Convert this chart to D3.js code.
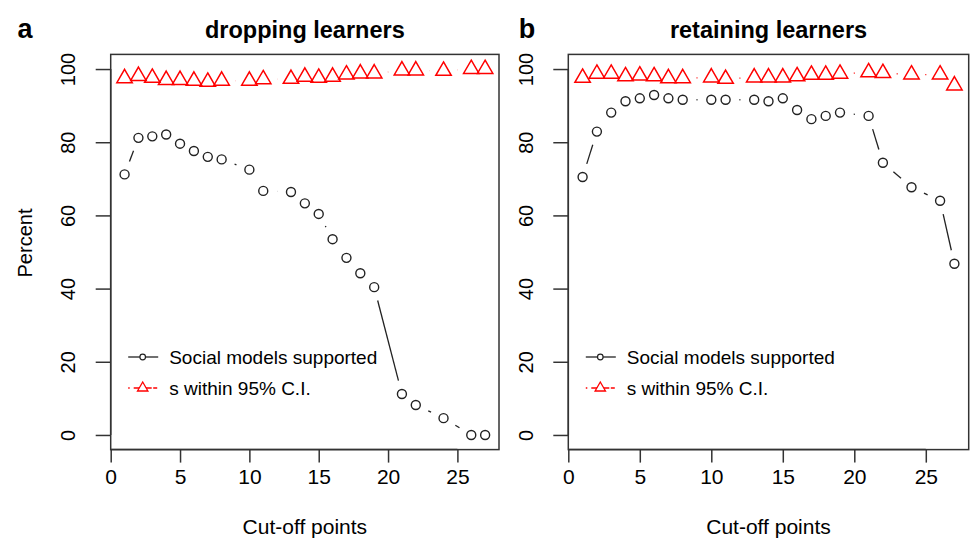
<!DOCTYPE html>
<html>
<head>
<meta charset="utf-8">
<script src="https://cdnjs.cloudflare.com/ajax/libs/d3/7.8.5/d3.min.js"></script>
<style>
  body { margin: 0; background: #fff; }
  svg text { font-family: "Liberation Sans", Arial, sans-serif; fill: #000; }
</style>
</head>
<body>
<div id="chart"></div>
<script>
// cut-off points shared by both panels
const cutoffs = [1, 2, 3, 4, 5, 6, 7, 8, 10, 11, 13, 14, 15, 16, 17, 18, 19, 21, 22, 24, 26, 27];

// panel a: dropping learners
const dropSupported = [71.2, 81.2, 81.6, 82.1, 79.6, 77.6, 76.0, 75.3, 72.5, 66.7, 66.4, 63.3, 60.4, 53.5, 48.4, 44.2, 40.4, 11.2, 8.2, 4.6, 0, 0];
const dropWithinCI = [97.5, 98.1, 97.6, 97.0, 97.0, 96.8, 96.5, 96.8, 96.8, 97.2, 97.3, 97.9, 97.6, 97.9, 98.5, 98.8, 98.8, 99.6, 99.6, 99.5, 100, 100];

// panel b: retaining learners
const retainSupported = [70.5, 82.9, 88.1, 91.2, 92.0, 92.9, 92.0, 91.6, 91.6, 91.6, 91.6, 91.2, 92.0, 88.8, 86.3, 87.2, 88.1, 87.2, 74.4, 67.7, 64.0, 46.8];
const retainWithinCI = [97.6, 98.7, 98.7, 98.0, 98.2, 98.0, 97.5, 97.5, 97.7, 97.3, 97.7, 97.7, 97.7, 98.0, 98.4, 98.4, 98.7, 99.1, 98.9, 98.5, 98.5, 95.5];

const xTicks = [0, 5, 10, 15, 20, 25];
const yTicks = [0, 20, 40, 60, 80, 100];
const legendLabels = ["Social models supported", "s within 95% C.I."];

const width = 970, height = 541;
const svg = d3.select("#chart").append("svg")
  .attr("width", width)
  .attr("height", height);

const panels = [
  { letter: "a", letterX: 25, title: "dropping learners", left: 110.7, right: 499, black: dropSupported, red: dropWithinCI, ylab: true },
  { letter: "b", letterX: 527, title: "retaining learners", left: 568.3, right: 968.7, black: retainSupported, red: retainWithinCI, ylab: false }
];

const plotTop = 54.4, plotBottom = 449.6;
const gap = 13.8; // type="b" gap round each point

// triangle, pch 2 style: apex r above centre, base r/2 below
function tri(r) {
  const h = r * 0.866;
  return `M0,${-r}L${h},${r / 2}L${-h},${r / 2}Z`;
}

// draw point-to-point segments with gaps
function gappedSegments(g, pts, cls) {
  const segs = [];
  for (let i = 1; i < pts.length; i++) {
    const [x1, y1] = pts[i - 1], [x2, y2] = pts[i];
    const len = Math.hypot(x2 - x1, y2 - y1);
    if (len <= 2 * gap) continue;
    const ux = (x2 - x1) / len, uy = (y2 - y1) / len;
    segs.push([x1 + ux * gap, y1 + uy * gap, x2 - ux * gap, y2 - uy * gap]);
  }
  return g.selectAll("line." + cls)
    .data(segs)
    .enter()
    .append("line")
    .attr("class", cls)
    .attr("x1", d => d[0]).attr("y1", d => d[1])
    .attr("x2", d => d[2]).attr("y2", d => d[3]);
}

panels.forEach(p => {
  const x = d3.scaleLinear().domain([0, 28]).range([p.left, p.right]);
  const y = d3.scaleLinear().domain([-4, 104]).range([plotBottom, plotTop]);
  const g = svg.append("g");

  // x axis (R style)
  const xAxis = g.append("g")
    .attr("transform", `translate(0,${plotBottom})`)
    .call(d3.axisBottom(x).tickValues(xTicks).tickSize(13).tickPadding(6).tickSizeOuter(0));
  xAxis.select(".domain").attr("d", `M${x(0)},0H${x(25)}`);
  xAxis.selectAll("line, path").attr("stroke", "#333").attr("stroke-width", 1.5);
  xAxis.selectAll("text").style("font-size", "21px").style("font-family", "Liberation Sans, Arial, sans-serif").attr("fill", "#000");

  // y axis, labels turned as in R
  const yAxis = g.append("g")
    .attr("transform", `translate(${p.left},0)`)
    .call(d3.axisLeft(y).tickValues(yTicks).tickSize(15).tickSizeOuter(0));
  yAxis.select(".domain").attr("d", `M0,${y(0)}V${y(100)}`);
  yAxis.selectAll("line, path").attr("stroke", "#333").attr("stroke-width", 1.5);
  yAxis.selectAll(".tick text")
    .attr("x", 0).attr("dy", null)
    .attr("transform", "translate(-42.5,0) rotate(-90)")
    .attr("text-anchor", "middle")
    .attr("dominant-baseline", "central")
    .style("font-size", "20px")
    .style("font-family", "Liberation Sans, Arial, sans-serif")
    .attr("fill", "#000");

  // box
  g.append("rect")
    .attr("x", p.left).attr("y", plotTop)
    .attr("width", p.right - p.left).attr("height", plotBottom - plotTop)
    .attr("fill", "none").attr("stroke", "#333").attr("stroke-width", 1.5);

  const blackPts = cutoffs.map((c, i) => [x(c), y(p.black[i])]);
  const redPts = cutoffs.map((c, i) => [x(c), y(p.red[i])]);

  gappedSegments(g, blackPts, "seg-black")
    .attr("stroke", "#222").attr("stroke-width", 1.3);
  gappedSegments(g, redPts, "seg-red")
    .attr("stroke", "#f00").attr("stroke-width", 1.3).attr("stroke-dasharray", "1.5,3,5,3");

  g.selectAll("circle.pt")
    .data(blackPts)
    .enter()
    .append("circle")
    .attr("class", "pt")
    .attr("cx", d => d[0]).attr("cy", d => d[1])
    .attr("r", 4.5)
    .attr("fill", "none").attr("stroke", "#222").attr("stroke-width", 1.4);

  g.selectAll("path.tri")
    .data(redPts)
    .enter()
    .append("path")
    .attr("class", "tri")
    .attr("d", tri(8.9))
    .attr("transform", d => `translate(${d[0]},${d[1]})`)
    .attr("fill", "none").attr("stroke", "#f00").attr("stroke-width", 1.5);

  // legend
  const lx = p.left + 17.5;
  const lg = g.append("g");
  lg.append("line").attr("x1", lx).attr("x2", lx + 30).attr("y1", 357).attr("y2", 357)
    .attr("stroke", "#222").attr("stroke-width", 1.3);
  lg.append("circle").attr("cx", lx + 14.5).attr("cy", 357).attr("r", 2.8)
    .attr("fill", "#fff").attr("stroke", "#222").attr("stroke-width", 1.2);
  lg.append("line").attr("x1", lx).attr("x2", lx + 30).attr("y1", 388).attr("y2", 388)
    .attr("stroke", "#f00").attr("stroke-width", 1.3).attr("stroke-dasharray", "1.5,4,7,2,0,2,7");
  lg.append("path").attr("d", tri(6)).attr("transform", `translate(${lx + 14.5},388)`)
    .attr("fill", "#fff").attr("stroke", "#f00").attr("stroke-width", 1.3);
  lg.selectAll("text")
    .data(legendLabels)
    .enter()
    .append("text")
    .attr("x", lx + 41)
    .attr("y", (d, i) => 364 + i * 31)
    .style("font-size", "19px")
    .text(d => d);

  // titles
  svg.append("text")
    .attr("x", (p.left + p.right) / 2).attr("y", 38)
    .attr("text-anchor", "middle")
    .style("font-size", "23.5px").style("font-weight", "bold")
    .text(p.title);
  svg.append("text")
    .attr("x", p.letterX).attr("y", 38)
    .attr("text-anchor", "middle")
    .style("font-size", "27px").style("font-weight", "bold")
    .text(p.letter);

  // axis titles
  svg.append("text")
    .attr("x", (p.left + p.right) / 2).attr("y", 534)
    .attr("text-anchor", "middle")
    .style("font-size", "21px")
    .text("Cut-off points");
  if (p.ylab) {
    svg.append("text")
      .attr("transform", `translate(32,243) rotate(-90)`)
      .attr("text-anchor", "middle")
      .style("font-size", "20px")
      .text("Percent");
  }
});
</script>
</body>
</html>
